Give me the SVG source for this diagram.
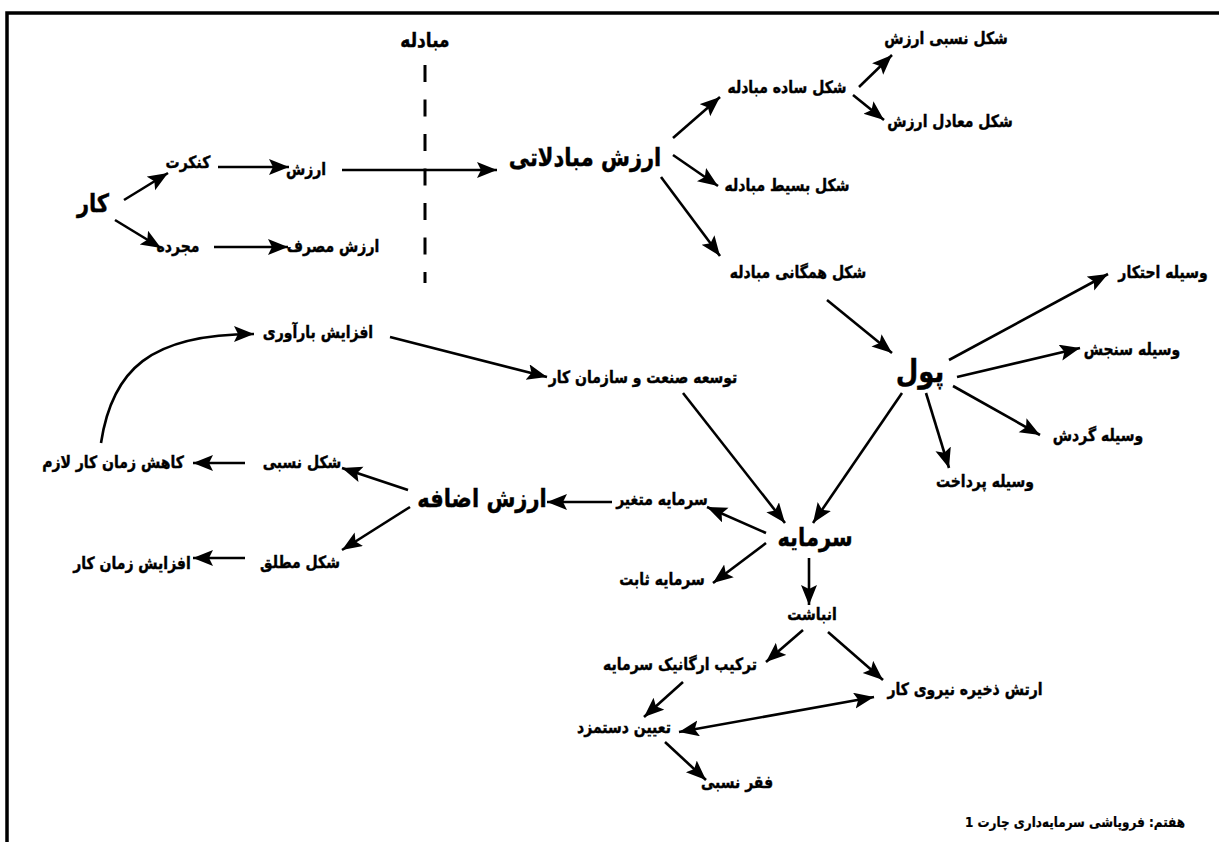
<svg xmlns="http://www.w3.org/2000/svg" width="1219" height="842" viewBox="0 0 1219 842">
<style>
text{font-family:"DejaVu Sans",sans-serif;font-weight:bold;fill:#000;stroke:#000;stroke-width:0.35;text-anchor:middle;transform-box:fill-box;transform-origin:center;transform:scaleY(1.2)}
.s{font-size:14px}
.m{font-size:17px}
.l{font-size:21px}
.xl{font-size:26px}
.f{font-size:12px;stroke-width:0.2}
.c{fill:none;stroke:#000;stroke-width:2.6;marker-end:url(#ah)}
.d{fill:none;stroke:#000;stroke-width:2.6;marker-end:url(#ah);marker-start:url(#ah)}
</style>
<defs>
<marker id="ah" markerUnits="userSpaceOnUse" markerWidth="22" markerHeight="18" refX="20" refY="8" orient="auto-start-reverse">
<path d="M0,0 L20,8 L0,16 L4,8 z" fill="#000"/>
</marker>
</defs>
<rect width="1219" height="842" fill="#fff"/>
<g id="frame" stroke="#000" stroke-width="3.5" fill="none">
<path d="M7,842 V13 H1219"/>
</g>
<g id="divider">
<line x1="425" y1="65" x2="425" y2="283" stroke="#000" stroke-width="3" stroke-dasharray="17 17.5"/>
</g>
<g id="connectors">
<path class="c" d="M124,200 L168,173"/>
<path class="c" d="M115,220 L161,248"/>
<path class="c" d="M218,167 L289,167"/>
<path class="c" d="M214,247 L288,247"/>
<path class="c" d="M342,170 L497,170"/>
<path class="c" d="M673,138 L720,97"/>
<path class="c" d="M673,155 L718,186"/>
<path class="c" d="M661,177 L720,256"/>
<path class="c" d="M859,87 L892,55"/>
<path class="c" d="M853,95 L884,120"/>
<path class="c" d="M827,300 L892,353"/>
<path class="c" d="M949,360 L1108,274"/>
<path class="c" d="M957,377 L1080,348"/>
<path class="c" d="M953,386 L1040,435"/>
<path class="c" d="M926,393 L949,468"/>
<path class="c" d="M902,393 L813,523"/>
<path class="c" d="M390,337 L547,377"/>
<path class="c" d="M683,393 L785,523"/>
<path class="c" d="M766,533 L707,507"/>
<path class="c" d="M766,543 L713,583"/>
<path class="c" d="M809,558 L809,605"/>
<path class="c" d="M803,630 L766,662"/>
<path class="c" d="M828,632 L883,680"/>
<path class="c" d="M683,682 L644,717"/>
<path class="d" d="M679,732 L874,697"/>
<path class="c" d="M665,742 L706,780"/>
<path class="c" d="M612,502 L547,502"/>
<path class="c" d="M408,490 L342,468"/>
<path class="c" d="M410,507 L342,550"/>
<path class="c" d="M245,463 L193,463"/>
<path class="c" d="M245,558 L193,558"/>
<path class="c" d="M101,443 C112,370 150,334 254,334"/>
</g>
<g id="n-mobadele"><text class="m" x="425" y="46">مبادله</text></g>
<g id="n-kar"><text class="l" x="93" y="211">کار</text></g>
<g id="n-konkret"><text class="s" x="188" y="167">کنکرت</text></g>
<g id="n-arzesh"><text class="s" x="306" y="174">ارزش</text></g>
<g id="n-mojarrad"><text class="s" x="178" y="251">مجرده</text></g>
<g id="n-masraf"><text class="s" x="333" y="251">ارزش مصرف</text></g>
<g id="n-mobadelati"><text class="l" x="585" y="165">ارزش مبادلاتی</text></g>
<g id="n-sade"><text class="s" x="787" y="92">شکل ساده مبادله</text></g>
<g id="n-nesbi-arzesh"><text class="s" x="946" y="43">شکل نسبی ارزش</text></g>
<g id="n-moadel"><text class="s" x="950" y="126">شکل معادل ارزش</text></g>
<g id="n-basit"><text class="s" x="787" y="190">شکل بسیط مبادله</text></g>
<g id="n-hamegani"><text class="s" x="798" y="277">شکل همگانی مبادله</text></g>
<g id="n-pool"><text class="xl" x="920" y="380">پول</text></g>
<g id="n-ehtekar"><text class="s" x="1163" y="277">وسیله احتکار</text></g>
<g id="n-sanjesh"><text class="s" x="1132" y="354">وسیله سنجش</text></g>
<g id="n-gardesh"><text class="s" x="1098" y="440">وسیله گردش</text></g>
<g id="n-pardakht"><text class="s" x="985" y="486">وسیله پرداخت</text></g>
<g id="n-tosee"><text class="s" x="643" y="382">توسعه صنعت و سازمان کار</text></g>
<g id="n-baravari"><text class="s" x="318" y="337">افزایش بارآوری</text></g>
<g id="n-kahesh"><text class="s" x="113" y="467">کاهش زمان کار لازم</text></g>
<g id="n-shekl-nesbi"><text class="s" x="302" y="467">شکل نسبی</text></g>
<g id="n-ezafe"><text class="l" x="482" y="506">ارزش اضافه</text></g>
<g id="n-motlagh"><text class="s" x="300" y="567">شکل مطلق</text></g>
<g id="n-afzayesh-zaman"><text class="s" x="132" y="568">افزایش زمان کار</text></g>
<g id="n-sarmaye"><text class="l" x="815" y="545">سرمایه</text></g>
<g id="n-motaghayyer"><text class="s" x="662" y="504">سرمایه متغیر</text></g>
<g id="n-sabet"><text class="s" x="662" y="584">سرمایه ثابت</text></g>
<g id="n-anbasht"><text class="s" x="812" y="619">انباشت</text></g>
<g id="n-tarkib"><text class="s" x="680" y="669">ترکیب ارگانیک سرمایه</text></g>
<g id="n-artesh"><text class="s" x="965" y="694">ارتش ذخیره نیروی کار</text></g>
<g id="n-dastmozd"><text class="s" x="624" y="732">تعیین دستمزد</text></g>
<g id="n-faghr"><text class="s" x="737" y="787">فقر نسبی</text></g>
<g id="footer"><text class="f" x="1075" y="826" direction="rtl">هفتم: فروپاشی سرمایه‌داری چارت 1</text></g>
</svg>
